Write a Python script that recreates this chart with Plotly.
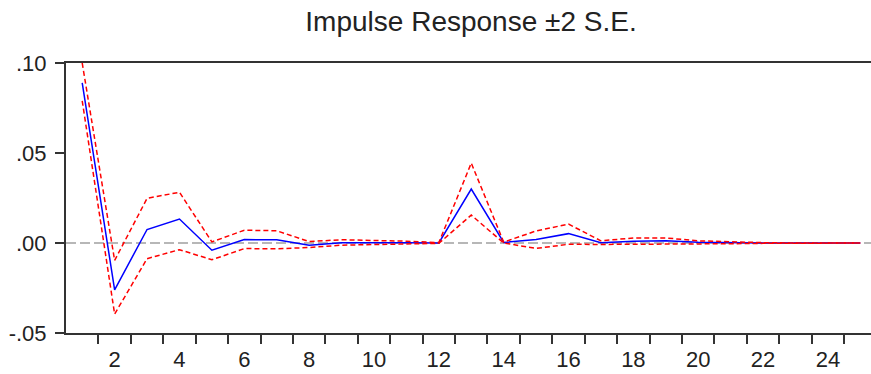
import plotly.graph_objects as go

periods = list(range(1, 26))
response = [0.089, -0.026, 0.0075, 0.0133, -0.004, 0.0019, 0.0018, -0.0013, 0.0002, 0.0003,
            0.0002, 0.0, 0.030, 0.0003, 0.0019, 0.0052, 0.0002, 0.001, 0.0012, 0.0004,
            0.0001, 0.0, 0.0, 0.0, 0.0]
upper = [0.100, -0.0097, 0.0248, 0.0282, 0.0006, 0.0071, 0.0068, 0.0008, 0.0018, 0.0015,
         0.001, 0.0002, 0.0444, 0.0005, 0.0067, 0.0105, 0.0012, 0.0028, 0.0028, 0.0012,
         0.0005, 0.0002, 0.0, 0.0, 0.0]
lower = [0.079, -0.0395, -0.0087, -0.0037, -0.0093, -0.0031, -0.0032, -0.0025, -0.0012, -0.0010,
         -0.0008, -0.0002, 0.0155, 0.0, -0.003, -0.0007, -0.0008, -0.0008, -0.0006, -0.0006,
         -0.0004, -0.0002, 0.0, 0.0, 0.0]
x_labels = [2, 4, 6, 8, 10, 12, 14, 16, 18, 20, 22, 24]
y_ticks = [-0.05, 0.0, 0.05, 0.10]
y_text = ["-.05", ".00", ".05", ".10"]
title = "Impulse Response ±2 S.E."

fig = go.Figure()
fig.add_trace(go.Scatter(x=periods, y=response, mode="lines",
                         line=dict(color="#0000FF", width=1.5), showlegend=False))
fig.add_trace(go.Scatter(x=periods, y=upper, mode="lines",
                         line=dict(color="#FF0000", width=1.5, dash="5px,3px"), showlegend=False))
fig.add_trace(go.Scatter(x=periods, y=lower, mode="lines",
                         line=dict(color="#FF0000", width=1.5, dash="5px,3px"), showlegend=False))

fig.add_shape(type="line", xref="paper", x0=0, x1=1, yref="y", y0=0, y1=0,
              line=dict(color="#A0A0A0", width=1.5, dash="10px,4px"), layer="below")

font = "Liberation Sans, Arial, sans-serif"
fig.update_layout(
    width=871, height=374,
    margin=dict(l=66, r=0, t=63, b=41),
    paper_bgcolor="white", plot_bgcolor="white",
    title=dict(text=title, x=471/871, xanchor="center", y=1-21/374, yanchor="middle",
               font=dict(family=font, size=28, color="#222222")),
    xaxis=dict(range=[0.5, 25.33], tickmode="array", tickvals=x_labels,
               ticktext=[str(v) for v in x_labels], ticks="", showgrid=False,
               zeroline=False, showline=True, linecolor="#333333", linewidth=2,
               mirror=True, ticklabelstandoff=6,
               tickfont=dict(family=font, size=22, color="#222222"),
               minor=dict(tickmode="array", tickvals=[p + 0.5 for p in periods[:-1]],
                          ticks="outside", ticklen=9, tickwidth=2, tickcolor="#333333",
                          showgrid=False)),
    yaxis=dict(range=[-0.05, 0.10], tickmode="array", tickvals=y_ticks, ticktext=y_text,
               ticks="outside", ticklen=9, tickwidth=2, tickcolor="#333333",
               ticklabelstandoff=4,
               showgrid=False, zeroline=False, showline=True, linecolor="#333333",
               linewidth=2, tickfont=dict(family=font, size=22, color="#222222")),
)

fig.write_html("out.html")
